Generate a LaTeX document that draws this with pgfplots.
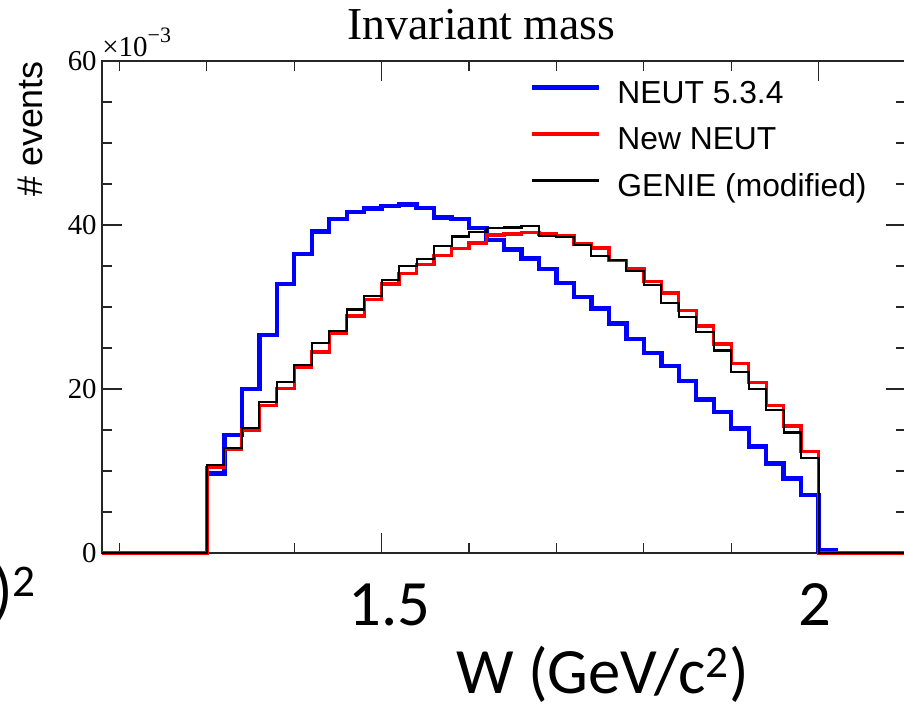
\documentclass[border=0pt]{standalone}
\usepackage{pgfplots}
\pgfplotsset{compat=1.18}
\usepackage{fontspec}
\newfontfamily\tnr{Liberation Serif}
\newfontfamily\arial{Liberation Sans}
\newfontfamily\calibri{Carlito}

\begin{document}
\begin{tikzpicture}
% 1 px of the reference = 0.02cm; lower left corner of the frame at (0,0)
\useasboundingbox (-2.04,-3.12) rectangle (16.04,11.06);
\clip (-2.04,-3.12) rectangle (16.04,11.06);
\begin{axis}[
    at={(0,0)}, anchor=south west,
    scale only axis, width=16.08cm, height=9.84cm,
    xmin=1.18, xmax=2.1, ymin=0, ymax=60,
    clip=false,
    axis line style={black!85, line width=0.8pt},
    every tick/.style={black!85, line width=0.7pt},
    major tick length=0.4cm, minor tick length=0.2cm,
    xtick={2}, xticklabels={2},
    extra x ticks={1.5}, extra x tick labels={1.5},
    extra x tick style={xticklabel style={xshift=0.23cm}},
    minor xtick={1.2,1.3,1.4,1.6,1.7,1.8,1.9},
    xticklabel style={font=\calibri\fontsize{36.8}{40}\selectfont, anchor=base,
        inner sep=0pt, yshift=-1.44cm, xshift=-0.08cm},
    ytick={0,20,40,60}, yticklabels={0,20,40,60},
    minor ytick={5,10,15,25,30,35,45,50,55},
    yticklabel style={font=\tnr\fontsize{16.4}{18}\selectfont, anchor=east,
        inner sep=0pt, xshift=-0.1cm},
    ylabel={\# events},
    ylabel style={at={(axis description cs:-0.0896,0.862)}, anchor=center,
        inner sep=0pt, font=\arial\fontsize{20.4}{24}\selectfont},
    title={Invariant mass},
    title style={at={(axis description cs:0.472,1.0225)}, anchor=base,
        inner sep=0pt, font=\tnr\fontsize{26}{30}\selectfont},
    legend cell align=left,
    legend image code/.code={\draw[#1] (0cm,0.09cm) -- (1.34cm,0.09cm);},
    legend style={at={(0.5323,0.9842)}, anchor=north west, draw=none, fill=none,
        inner sep=0pt, outer sep=0pt, column sep=0.32cm, row sep=0pt,
        font=\arial\fontsize{18.1}{21}\selectfont,
        nodes={inner sep=0pt, text height=0.685cm, text depth=0.245cm}},
]
% NEUT 5.3.4
\addplot[const plot mark left, color={rgb,255:red,0;green,0;blue,255}, line width=2.5pt]
  coordinates {(1.18,0) (1.30,9.7) (1.32,14.4) (1.34,20.0) (1.36,26.6) (1.38,32.8)
  (1.40,36.5) (1.42,39.2) (1.44,40.7) (1.46,41.6) (1.48,42.0) (1.50,42.3) (1.52,42.5)
  (1.54,42.1) (1.56,40.9) (1.58,40.7) (1.60,39.6) (1.62,38.2) (1.64,37.0) (1.66,35.9)
  (1.68,34.6) (1.70,32.9) (1.72,31.2) (1.74,29.8) (1.76,28.0) (1.78,26.1) (1.80,24.4)
  (1.82,22.8) (1.84,21.0) (1.86,18.7) (1.88,17.2) (1.90,15.2) (1.92,13.0) (1.94,10.9)
  (1.96,9.1) (1.98,7.1) (2.00,0.3) (2.02,0) (2.1,0)};
\addlegendentry{NEUT 5.3.4}
% New NEUT
\addplot[const plot mark left, color={rgb,255:red,255;green,0;blue,0}, line width=1.9pt]
  coordinates {(1.18,0) (1.30,10.4) (1.32,12.6) (1.34,15.0) (1.36,18.0) (1.38,20.1)
  (1.40,22.7) (1.42,24.5) (1.44,26.8) (1.46,28.9) (1.48,30.9) (1.50,32.8) (1.52,34.1)
  (1.54,35.2) (1.56,36.3) (1.58,37.1) (1.60,37.8) (1.62,38.8) (1.64,38.9) (1.66,39.1)
  (1.68,38.9) (1.70,38.7) (1.72,37.7) (1.74,37.2) (1.76,35.7) (1.78,34.7) (1.80,33.1)
  (1.82,31.7) (1.84,29.6) (1.86,27.7) (1.88,25.5) (1.90,23.1) (1.92,20.8) (1.94,18.0)
  (1.96,15.5) (1.98,12.4) (2.00,0) (2.1,0)};
\addlegendentry{New NEUT}
% GENIE (modified)
\addplot[const plot mark left, black, line width=1.2pt]
  coordinates {(1.18,0) (1.30,10.7) (1.32,12.8) (1.34,15.2) (1.36,18.4) (1.38,20.8)
  (1.40,22.9) (1.42,25.6) (1.44,27.1) (1.46,29.7) (1.48,31.3) (1.50,33.3) (1.52,35.0)
  (1.54,35.8) (1.56,37.4) (1.58,38.6) (1.60,39.2) (1.62,39.6) (1.64,39.7) (1.66,39.9)
  (1.68,38.7) (1.70,38.5) (1.72,37.6) (1.74,36.2) (1.76,35.7) (1.78,34.4) (1.80,32.7)
  (1.82,30.5) (1.84,28.8) (1.86,26.9) (1.88,24.7) (1.90,22.1) (1.92,20.0) (1.94,17.4)
  (1.96,14.7) (1.98,11.6) (2.00,0) (2.1,0)};
\addlegendentry{GENIE (modified)}
\end{axis}
% exponent of the y axis
\node[anchor=base west, inner sep=0pt, font=\tnr\fontsize{16.5}{19}\selectfont]
  at (0,9.92) {×10\raisebox{0.28cm}{\fontsize{12.5}{14}\selectfont −3}};
% large overlay labels
\node[anchor=base, inner sep=0pt, font=\calibri\fontsize{36.8}{40}\selectfont]
  at (10.01,-2.80) {W (GeV/c\textsuperscript{2})};
\node[anchor=base east, inner sep=0pt, font=\calibri\fontsize{36.8}{40}\selectfont]
  at (-1.30,-1.18) {)\textsuperscript{2}};
\end{tikzpicture}
\end{document}
